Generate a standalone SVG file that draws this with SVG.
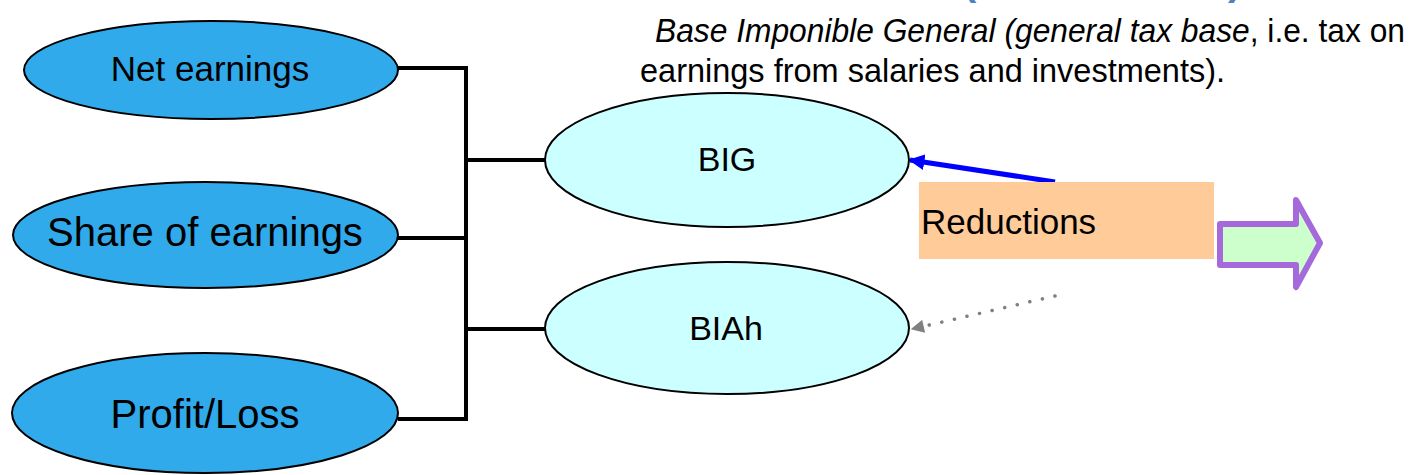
<svg xmlns="http://www.w3.org/2000/svg" width="1410" height="475" viewBox="0 0 1410 475">
  <style>
    .label { font-family: "Liberation Sans", Arial, sans-serif; fill: #000; }
    .src ellipse { fill: #30AAEA; stroke: #000; stroke-width: 2; }
    .base ellipse { fill: #CCFFFF; stroke: #000; stroke-width: 2; }
    .tree { stroke: #000; stroke-width: 4; fill: none; }
    .note { font-family: "Liberation Sans", Arial, sans-serif; font-size: 33px; fill: #000; }
    .paren { font-family: "Liberation Sans", Arial, sans-serif; font-size: 40px; font-weight: bold; fill: #4F81BD; }
  </style>
  <defs>
    <marker id="head-blue" viewBox="0 0 10 10" refX="9" refY="5" markerWidth="3.2" markerHeight="3.2" orient="auto" markerUnits="strokeWidth">
      <path d="M0,0 L10,5 L0,10 Z" fill="#0000FF"/>
    </marker>
    <marker id="head-gray" viewBox="0 0 10 10" refX="9" refY="5" markerWidth="4.4" markerHeight="3.8" orient="auto" markerUnits="strokeWidth">
      <path d="M0,0 L10,5 L0,10 Z" fill="#808080"/>
    </marker>
  </defs>

  <!-- heading brackets running off the top edge -->
  <text class="paren" x="963" y="-5">(</text>
  <text class="paren" x="1228" y="-5">)</text>

  <!-- explanatory note for BIG -->
  <text class="note" x="655" y="42" textLength="750" lengthAdjust="spacingAndGlyphs"><tspan font-style="italic">Base Imponible General (general tax base</tspan>, i.e. tax on</text>
  <text class="note" x="640" y="82" textLength="585" lengthAdjust="spacingAndGlyphs">earnings from salaries and investments).</text>

  <!-- connectors -->
  <g id="connectors">
    <path class="tree" d="M398,68 H466 V419 H398"/>
    <path class="tree" d="M398,238 H466"/>
    <path class="tree" d="M466,160 H545"/>
    <path class="tree" d="M466,329 H545"/>
    <line x1="1055" y1="182" x2="910" y2="160" stroke="#0000FF" stroke-width="5" marker-end="url(#head-blue)"/>
    <line x1="1055" y1="296" x2="912" y2="329" stroke="#808080" stroke-width="3.5" stroke-dasharray="0.1 12.8" stroke-linecap="round" marker-end="url(#head-gray)"/>
  </g>

  <!-- source items -->
  <g id="net-earnings" class="src">
    <ellipse cx="211" cy="70" rx="187" ry="49"/>
    <text class="label" x="210" y="81" font-size="35" text-anchor="middle">Net earnings</text>
  </g>
  <g id="share-of-earnings" class="src">
    <ellipse cx="205.5" cy="235" rx="192.5" ry="53"/>
    <text class="label" x="205" y="246" font-size="40" text-anchor="middle">Share of earnings</text>
  </g>
  <g id="profit-loss" class="src">
    <ellipse cx="205" cy="413" rx="193" ry="60"/>
    <text class="label" x="205" y="428" font-size="40" text-anchor="middle">Profit/Loss</text>
  </g>

  <!-- tax bases -->
  <g id="big" class="base">
    <ellipse cx="727" cy="160" rx="182" ry="67"/>
    <text class="label" x="727" y="171" font-size="34" text-anchor="middle">BIG</text>
  </g>
  <g id="biah" class="base">
    <ellipse cx="727" cy="328" rx="182" ry="66"/>
    <text class="label" x="726" y="340" font-size="34" text-anchor="middle">BIAh</text>
  </g>

  <!-- reductions box -->
  <g id="reductions">
    <rect x="919" y="182" width="295" height="77" fill="#FFCC99"/>
    <text class="label" x="921" y="234" font-size="35">Reductions</text>
  </g>

  <!-- outgoing block arrow -->
  <g id="next-arrow">
    <path d="M1220,224 H1296 V200 L1320,243 L1296,287 V265 H1220 Z" fill="#CCFFCC" stroke="#A569DC" stroke-width="6" stroke-linejoin="round"/>
  </g>
</svg>
